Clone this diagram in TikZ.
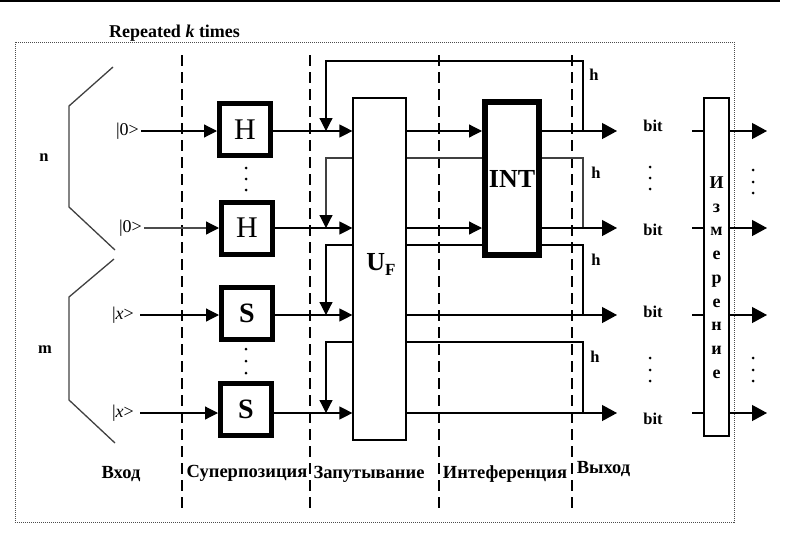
\documentclass[tikz,border=0pt]{standalone}
\usepackage{fontspec}
\setmainfont{Liberation Serif}
\usetikzlibrary{arrows.meta}
\begin{document}
\begin{tikzpicture}[x=1pt,y=-1pt,
  conn/.style={line width=1.2pt, draw=black},
  arr/.style={conn, -{Triangle[length=13pt,width=13pt,color=black]}},
  bigarr/.style={conn, -{Triangle[length=15pt,width=16pt,color=black]}},
  gate/.style={draw, line width=5pt, fill=white, minimum width=51pt, minimum height=52pt, inner sep=0pt},
  lbl/.style={font=\fontsize{16.5}{18}\selectfont\bfseries, inner sep=0pt},
  stage/.style={font=\fontsize{18.5}{20}\selectfont\bfseries, inner sep=0pt, anchor=base},
  ket/.style={font=\fontsize{18}{20}\selectfont, inner sep=0pt, anchor=east},
  sepline/.style={line width=1.2pt, dash pattern=on 11pt off 6pt},
  bracket/.style={line width=1.3pt, draw=black!75},
  dotmark/.style={circle, fill=black, inner sep=0pt, minimum size=3pt}
]
\useasboundingbox (0,0) rectangle (789,538);
% top rule and frame
\draw[line width=2pt] (0,1) -- (780,1);
\draw[line width=1pt, draw=black!70, dash pattern=on 1pt off 1pt] (15,42) rectangle (734,522);
\node[inner sep=0pt, font=\fontsize{18}{20}\selectfont\bfseries, anchor=base] (rep) at (174.5,37) {Repeated \textit{k} times};
% stage separators
\foreach \x in {182,310,439,572} \draw[sepline] (\x,55) -- (\x,508);
% brackets
\draw[bracket] (113,67) -- (69,106) -- (69,207) -- (115,250);
\draw[bracket] (114,259) -- (69,297) -- (69,400) -- (115,443);
\node[lbl] (nlab) at (44,158) {n};
\node[lbl] (mlab) at (45,350) {m};
% inputs
\node[ket] (k1) at (139,131) {|0>};
\node[ket] (k2) at (142,228) {|0>};
\node[ket] (k3) at (134,315) {|\textit{x}>};
\node[ket] (k4) at (134,413) {|\textit{x}>};
% feedback lines (behind boxes)
\coordinate (t1) at (583,131); \coordinate (t2) at (583,228);
\coordinate (t3) at (583,315); \coordinate (t4) at (583,413);
\coordinate (f1) at (326,61);  \coordinate (f2) at (326,158);
\coordinate (f3) at (326,245); \coordinate (f4) at (326,342);
\draw[arr] (t1) |- (f1) -- (f1 |- t1);
\draw[arr, draw=black!75] (t2) |- (f2) -- (f2 |- t2);
\draw[arr] (t3) |- (f3) -- (f3 |- t3);
\draw[arr] (t4) |- (f4) -- (f4 |- t4);
% gates
\node[gate, font=\fontsize{30}{30}\selectfont] (h1) at (245,129.5) {H};
\node[gate, font=\fontsize{30}{30}\selectfont] (h2) at (247,228) {H};
\node[gate, font=\fontsize{28}{28}\selectfont\bfseries] (s1) at (247,313) {S};
\node[gate, font=\fontsize{28}{28}\selectfont\bfseries] (s2) at (246,409.5) {S};
\node[draw, line width=1.2pt, fill=white, minimum width=53pt, minimum height=342pt, inner sep=0pt] (uf) at (379.5,269) {};
\node[inner sep=0pt, font=\fontsize{26}{26}\selectfont\bfseries] (uflbl) at (381,264) {U\raisebox{-5pt}{\fontsize{17}{17}\selectfont F}};
\node[draw, line width=6pt, fill=white, minimum width=54pt, minimum height=153pt, inner sep=0pt, font=\fontsize{26}{26}\selectfont\bfseries] (int) at (512,178.5) {INT};
\node[draw, line width=1.2pt, fill=white, minimum width=25pt, minimum height=338pt, inner sep=0pt] (meas) at (716.5,267) {};
\foreach \l [count=\i] in {И,з,м,е,р,е,н,и,е}
  \node[inner sep=0pt, font=\fontsize{18}{20}\selectfont\bfseries, anchor=base] (ml\i) at (716.5,{164.8+\i*23.7}) {\l};
% dots
\foreach \y in {168,179,190} \node[dotmark] at (246,\y) {};
\foreach \y in {349,361,373} \node[dotmark] at (246,\y) {};
\foreach \y in {167,178,189} \node[dotmark] at (650,\y) {};
\foreach \y in {358,370,381} \node[dotmark] at (650,\y) {};
\foreach \y in {170,182,193} \node[dotmark] at (753,\y) {};
\foreach \y in {358,370,381} \node[dotmark] at (753,\y) {};
% input arrows
\draw[arr] ([xshift=2pt]k1.east) -- (k1.east -| h1.west);
\draw[arr, draw=black!70] ([xshift=2pt]k2.east) -- (k2.east -| h2.west);
\draw[arr] ([xshift=6pt]k3.east) -- (k3.east -| s1.west);
\draw[arr] ([xshift=6pt]k4.east) -- (k4.east -| s2.west);
% gates to U_F
\draw[arr] (h1.east |- t1) -- (uf.west |- t1);
\draw[arr] (h2.east |- t2) -- (uf.west |- t2);
\draw[arr] (s1.east |- t3) -- (uf.west |- t3);
\draw[arr] (s2.east |- t4) -- (uf.west |- t4);
% U_F to INT
\draw[arr] (uf.east |- t1) -- (int.west |- t1);
\draw[arr] (uf.east |- t2) -- (int.west |- t2);
% outputs
\coordinate (e1) at (617,131); \coordinate (e2) at (617,228);
\coordinate (e3) at (617,315); \coordinate (e4) at (617,413);
\draw[bigarr] (int.east |- t1) -- (e1);
\draw[bigarr] (int.east |- t2) -- (e2);
\draw[bigarr] (uf.east |- t3) -- (e3);
\draw[bigarr] (uf.east |- t4) -- (e4);
% h labels
\node[lbl] (hl1) at (594,75) {h};
\node[lbl] (hl2) at (596,173) {h};
\node[lbl] (hl3) at (596,260) {h};
\node[lbl] (hl4) at (595,357) {h};
% bit labels
\node[lbl] (b1) at (653,126) {bit};
\node[lbl] (b2) at (653,230) {bit};
\node[lbl] (b3) at (653,312) {bit};
\node[lbl] (b4) at (653,419) {bit};
% measurement connections
\foreach \r/\n in {131/1,228/2,315/3,413/4} {
  \coordinate (mi\n) at (692,\r);
  \coordinate (mo\n) at (767,\r);
  \draw[conn] (mi\n) -- (mi\n -| meas.west);
  \draw[bigarr] (mi\n -| meas.east) -- (mo\n);
}
% stage labels
\node[stage] (st1) at (121,478) {Вход};
\node[stage] (st2) at (247,477) {Суперпозиция};
\node[stage] (st3) at (369,478) {Запутывание};
\node[stage] (st4) at (505,478) {Интеференция};
\node[stage] (st5) at (603.5,473) {Выход};
\end{tikzpicture}
\end{document}
